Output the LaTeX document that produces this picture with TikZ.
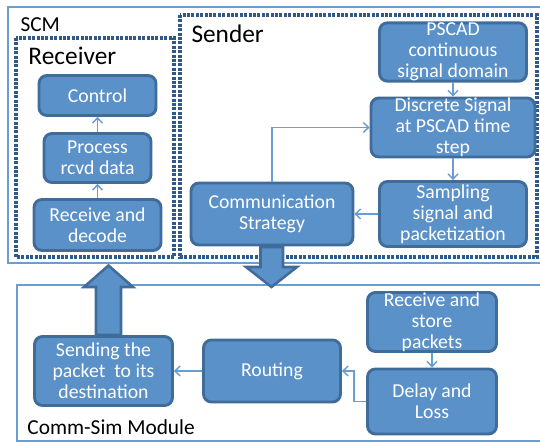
\documentclass[tikz,border=0pt]{standalone}
\usepackage{fontspec}
\setmainfont{Carlito}
\usetikzlibrary{arrows.meta}
\definecolor{boxfill}{RGB}{90,145,200}
\definecolor{boxline}{RGB}{64,108,153}
\definecolor{framecol}{RGB}{104,158,212}
\definecolor{dotcol}{RGB}{48,88,138}
\tikzset{every picture/.style={line width=0.75pt}}
\tikzset{
  block/.style={draw=boxline, fill=boxfill, line width=2.2pt, rounded corners=6pt,
    text=white, align=center, inner sep=0pt,
    font=\fontsize{14.8}{15.8}\selectfont},
  dims/.style 2 args={minimum width=#1*0.75pt, minimum height=#2*0.75pt},
  frame/.style={draw=framecol, line width=2.2pt},
  dotframe/.style={draw=dotcol, line width=2.3pt, dash pattern=on 2.2pt off 1.1pt},
  flow/.style={draw=framecol, line width=1.1pt, -{Straight Barb[length=3.8pt,width=7.5pt]}},
  bigarrow/.style={draw=boxline, fill=boxfill, line width=1.9pt, line join=miter},
  title/.style={anchor=west, inner sep=0pt}
}
\begin{document}
\begin{tikzpicture}[x=0.75pt,y=0.75pt,yscale=-1,xscale=1]
	\useasboundingbox (0,0) rectangle (540,442);

	% outer frames
	\draw [frame] (8,7) rectangle (548,263);
	\draw [frame] (17,285) rectangle (548,441);
	\draw [dotframe] (16,38) rectangle (174,257);
	\draw [dotframe] (180,15) rectangle (537,257);

	% frame titles
	\node [title, font=\fontsize{16}{18}\selectfont] (scm) at (20,24.5) {SCM};
	\node [title, font=\fontsize{19}{21}\selectfont] (rcv) at (28,56) {Receiver};
	\node [title, font=\fontsize{19}{21}\selectfont] (snd) at (191,33.5) {Sender};
	\node [title, font=\fontsize{16}{18}\selectfont] (csm) at (27,427) {Comm-Sim Module};

	% receiver
	\node [block, dims={117}{40}] (ctrl) at (97.5,95.5) {Control};
	\node [block, dims={107}{49}] (proc) at (97.5,158) {Process\\rcvd data};
	\node [block, dims={127}{51}] (rdec) at (97.5,225) {Receive and\\decode};

	% sender
	\node [block, dims={147}{57}] (pscad) at (453,52) {PSCAD\\continuous\\signal domain};
	\node [block, dims={164}{58}] (discr) at (453,127.5) {Discrete Signal\\at PSCAD time\\step};
	\node [block, dims={147}{65}] (sampl) at (453,214) {Sampling\\signal and\\packetization};
	\node [block, dims={162}{62}] (cstrat) at (272,214) {Communication\\Strategy};

	% comm-sim module
	\node [block, dims={138}{69}] (dest) at (103.5,371) {Sending the\\packet \ to its\\destination};
	\node [block, dims={137}{62}] (rout) at (272,371) {Routing};
	\node [block, dims={129}{55}] (store) at (432,322) {Receive and\\store\\packets};
	\node [block, dims={129}{65}] (delay) at (432,401.5) {Delay and\\Loss};

	% thin arrows
	\draw [flow] (proc) -- (ctrl);
	\draw [flow] (rdec) -- (proc);
	\draw [flow] (pscad) -- (discr);
	\draw [flow] (discr) -- (sampl);
	\draw [flow] (sampl) -- (cstrat);
	\draw [flow] (cstrat.north) |- (discr.west);
	\draw [flow] (store) -- (delay);
	\draw [flow] (delay.west) -- ++(-12,0) |- (rout.east);
	\draw [flow] (rout) -- (dest);

	% block arrows between modules
	\draw [bigarrow] (260.5,247) -- (283,247) -- (283,267) -- (297,267) -- (271.5,287)
		-- (246,267) -- (260.5,267) -- cycle;
	\draw [bigarrow] (96,335) -- (121,335) -- (121,287) -- (133,287) -- (108.5,265.5)
		-- (84,287) -- (96,287) -- cycle;

\end{tikzpicture}
\end{document}
